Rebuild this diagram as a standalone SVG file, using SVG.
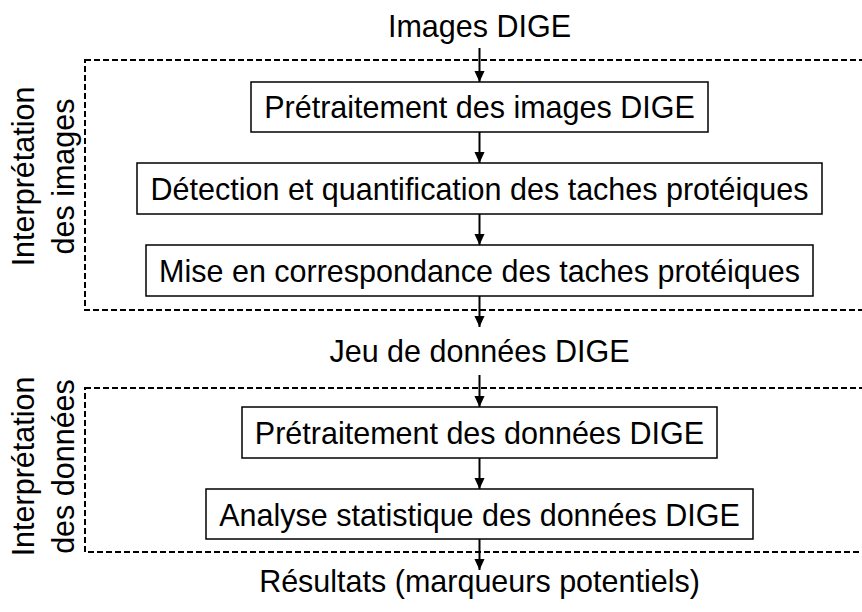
<svg xmlns="http://www.w3.org/2000/svg" width="862" height="612" viewBox="0 0 862 612">
<style>
text{font-family:"Liberation Sans",Arial,sans-serif;font-size:30.5px;fill:#000;text-anchor:middle}
.box{fill:#fff;stroke:#000;stroke-width:1.5}
.grp{fill:none;stroke:#000;stroke-width:2;stroke-dasharray:6 3}
</style>
<defs>
<marker id="head" markerWidth="11" markerHeight="12" refX="12" refY="5.5" orient="auto" markerUnits="userSpaceOnUse" viewBox="0 0 12 11">
<path d="M0,0 L12,5.5 L0,11 Z" fill="#000"/>
</marker>
</defs>
<g id="group-images">
<rect class="grp" x="85" y="60" width="800" height="250"/>
<text transform="translate(34,176.5) rotate(-90)">Interprétation</text>
<text transform="translate(74,176.5) rotate(-90)">des images</text>
</g>
<g id="group-donnees">
<rect class="grp" x="85" y="388" width="800" height="164"/>
<text transform="translate(34,466.5) rotate(-90)">Interprétation</text>
<text transform="translate(74,466.5) rotate(-90)">des données</text>
</g>
<g id="connectors">
<line x1="479.5" y1="48" x2="479.5" y2="82" stroke="#000" stroke-width="2" marker-end="url(#head)"/>
<line x1="479.5" y1="132" x2="479.5" y2="163" stroke="#000" stroke-width="2" marker-end="url(#head)"/>
<line x1="479.5" y1="214" x2="479.5" y2="245" stroke="#000" stroke-width="2" marker-end="url(#head)"/>
<line x1="479.5" y1="296" x2="479.5" y2="327" stroke="#000" stroke-width="2" marker-end="url(#head)"/>
<line x1="479.5" y1="375" x2="479.5" y2="407" stroke="#000" stroke-width="2" marker-end="url(#head)"/>
<line x1="479.5" y1="458" x2="479.5" y2="489" stroke="#000" stroke-width="2" marker-end="url(#head)"/>
<line x1="479.5" y1="539" x2="479.5" y2="570" stroke="#000" stroke-width="2" marker-end="url(#head)"/>
</g>
<g id="images-dige"><text x="479.5" y="37">Images DIGE</text></g>
<g id="pretraitement-images">
<rect class="box" x="251" y="82" width="457" height="50"/>
<text x="479.5" y="118">Prétraitement des images DIGE</text>
</g>
<g id="detection">
<rect class="box" x="137" y="163" width="685" height="51"/>
<text x="479.5" y="199.5">Détection et quantification des taches protéiques</text>
</g>
<g id="correspondance">
<rect class="box" x="146" y="245" width="667" height="51"/>
<text x="479.5" y="282">Mise en correspondance des taches protéiques</text>
</g>
<g id="jeu-donnees"><text x="479.5" y="362">Jeu de données DIGE</text></g>
<g id="pretraitement-donnees">
<rect class="box" x="242" y="407" width="475" height="51"/>
<text x="479.5" y="444">Prétraitement des données DIGE</text>
</g>
<g id="analyse">
<rect class="box" x="206" y="489" width="547" height="50"/>
<text x="479.5" y="525.5">Analyse statistique des données DIGE</text>
</g>
<g id="resultats"><text x="479.5" y="592">Résultats (marqueurs potentiels)</text></g>
</svg>
